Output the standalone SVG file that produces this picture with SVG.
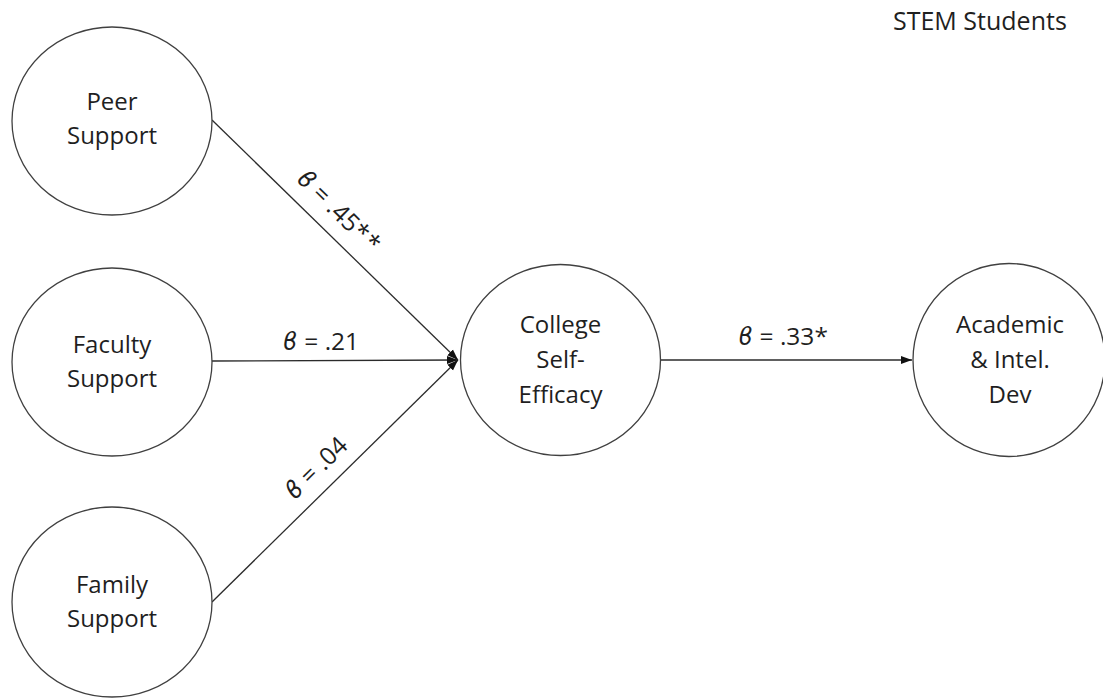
<svg xmlns="http://www.w3.org/2000/svg" width="1103" height="698" viewBox="0 0 1103 698">
  <style>
    .node { fill: #ffffff; stroke: #404040; stroke-width: 1.3; }
    .label { font-family: "Open Sans", "Liberation Sans", sans-serif; font-size: 24px; fill: #1f1f1f; text-anchor: middle; }
    .coef { font-family: "Open Sans", "Liberation Sans", sans-serif; font-size: 24.5px; fill: #1f1f1f; text-anchor: middle; }
    .beta { font-family: "DejaVu Sans", sans-serif; font-style: italic; }
    .title { font-family: "Open Sans", "Liberation Sans", sans-serif; font-size: 25px; fill: #1f1f1f; }
    .edge { stroke: #2b2b2b; stroke-width: 1.3; fill: none; }
  </style>
  <defs>
    <marker id="arrow" markerUnits="userSpaceOnUse" markerWidth="11" markerHeight="10" viewBox="0 0 11 10" refX="11" refY="5" orient="auto">
      <path d="M0,1 L11,5 L0,9 Z" fill="#111111"/>
    </marker>
  </defs>

  <rect width="1103" height="698" fill="#ffffff"/>

  <text class="title" x="893" y="30">STEM Students</text>

  <!-- paths between constructs -->
  <g id="connectors">
    <line class="edge" x1="212" y1="120" x2="458" y2="360" marker-end="url(#arrow)"/>
    <line class="edge" x1="212" y1="361" x2="458" y2="360" marker-end="url(#arrow)"/>
    <line class="edge" x1="212" y1="602" x2="458" y2="360" marker-end="url(#arrow)"/>
    <line class="edge" x1="661" y1="360" x2="912" y2="360" marker-end="url(#arrow)"/>

    <text class="coef" transform="translate(333,217) rotate(44.4)"><tspan class="beta">ϐ</tspan> = .45*<tspan dx="2">*</tspan></text>
    <text class="coef" x="321" y="350"><tspan class="beta">ϐ</tspan> = .21</text>
    <text class="coef" transform="translate(322,474) rotate(-44.6)"><tspan class="beta">ϐ</tspan> = .04</text>
    <text class="coef" x="783" y="345"><tspan class="beta">ϐ</tspan> = .33*</text>
  </g>

  <g id="peer-support">
    <ellipse class="node" cx="112" cy="121" rx="100" ry="94"/>
    <text class="label" x="112" y="110">Peer</text>
    <text class="label" x="112" y="144">Support</text>
  </g>

  <g id="faculty-support">
    <ellipse class="node" cx="112" cy="362" rx="100" ry="94"/>
    <text class="label" x="112" y="353">Faculty</text>
    <text class="label" x="112" y="387">Support</text>
  </g>

  <g id="family-support">
    <ellipse class="node" cx="112" cy="602" rx="100" ry="95"/>
    <text class="label" x="112" y="593">Family</text>
    <text class="label" x="112" y="627">Support</text>
  </g>

  <g id="college-self-efficacy">
    <ellipse class="node" cx="560.5" cy="360" rx="100" ry="95.5"/>
    <text class="label" x="560.5" y="333">College</text>
    <text class="label" x="560.5" y="368">Self-</text>
    <text class="label" x="560.5" y="403">Efficacy</text>
  </g>

  <g id="academic-intel-dev">
    <ellipse class="node" cx="1009" cy="360" rx="96" ry="96.5"/>
    <text class="label" x="1010" y="333">Academic</text>
    <text class="label" x="1010" y="368">&amp; Intel.</text>
    <text class="label" x="1010" y="403">Dev</text>
  </g>
</svg>
